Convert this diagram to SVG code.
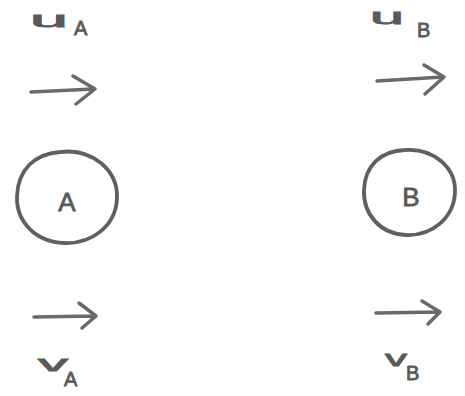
<svg xmlns="http://www.w3.org/2000/svg" width="465" height="396" viewBox="0 0 465 396">
<style>
.ink{fill:none;stroke:#606060;stroke-width:3.8;stroke-linecap:round;stroke-linejoin:round}
.arr{fill:none;stroke:#6a6a6a;stroke-width:3.5;stroke-linecap:round;stroke-linejoin:round}
.lbl{font-family:"Liberation Sans",Arial,sans-serif;fill:#5a5a5a;stroke:#5a5a5a;stroke-width:0.8}
.big{font-size:22px}
.sub{font-size:20px}
.node{font-size:26px;text-anchor:middle}
</style>
<rect width="465" height="396" fill="#ffffff"/>
<g id="labels">
  <g id="label-uA"><text class="lbl big" x="30" y="27" textLength="38" lengthAdjust="spacingAndGlyphs">u</text><text class="lbl sub" x="74" y="35">A</text></g>
  <g id="label-uB"><text class="lbl big" x="370" y="24" textLength="34" lengthAdjust="spacingAndGlyphs">u</text><text class="lbl sub" x="417" y="37">B</text></g>
  <g id="label-vA"><text class="lbl big" x="38" y="371" textLength="30" lengthAdjust="spacingAndGlyphs">v</text><text class="lbl sub" x="64" y="386">A</text></g>
  <g id="label-vB"><text class="lbl big" x="385" y="366" textLength="22" lengthAdjust="spacingAndGlyphs">v</text><text class="lbl sub" x="406" y="380">B</text></g>
</g>
<g id="node-A">
  <path class="ink" d="M60,152 C92,148 118,170 117,198 C116,226 92,244 64,243 C36,242 16,222 17,196 C18,170 34,154 60,152 Z"/>
  <text class="lbl node" x="67" y="211">A</text>
</g>
<g id="node-B">
  <path class="ink" d="M405,150 C434,148 456,168 455,192 C454,218 432,236 406,235 C380,234 363,214 364,190 C365,166 380,151 405,150 Z"/>
  <text class="lbl node" x="411" y="206">B</text>
</g>
<g id="connectors">
  <path class="arr" d="M31,92 L94,89 M73,76 L95,89 L76,104"/>
  <path class="arr" d="M377,81 L443,77 M424,65 L444,77 L425,94"/>
  <path class="arr" d="M34,317 L96,316 M79,303 L96,316 L82,328"/>
  <path class="arr" d="M376,313 L440,312 M422,301 L440,312 L428,324"/>
</g>
</svg>
